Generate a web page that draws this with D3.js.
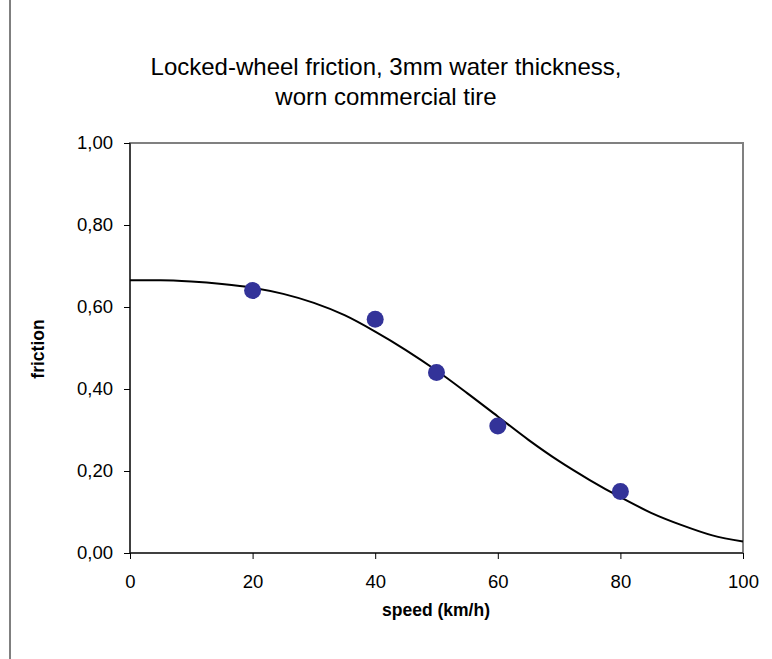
<!DOCTYPE html><html><head><meta charset="utf-8"><script src="https://cdn.jsdelivr.net/npm/d3@7"></script>
<style>body{margin:0;background:#fff}text{font-family:Arial,"Liberation Sans",sans-serif}</style></head><body>
<svg id="c" width="772" height="659"></svg>
<script>
const pointsX=[20,40,50,60,80];
const pointsY=[0.64,0.57,0.44,0.31,0.15];
const curveX=[0,5,10,15,20,25,30,35,40,45,50,55,60,65,70,75,80,85,90,95,100];
const curveY=[0.665,0.665,0.662,0.656,0.647,0.632,0.61,0.58,0.54,0.495,0.445,0.39,0.333,0.276,0.224,0.178,0.136,0.098,0.068,0.043,0.028];
const xTicks=[0,20,40,60,80,100];
const yTicks=[0,0.2,0.4,0.6,0.8,1.0];
const svg=d3.select("#c");
svg.append("line").attr("x1",10).attr("x2",10).attr("y1",0).attr("y2",659).attr("stroke","#000");
const L=130,R=743,T=143,B=553;
const x=d3.scaleLinear().domain([0,100]).range([L,R]);
const y=d3.scaleLinear().domain([0,1]).range([B,T]);
svg.append("rect").attr("x",L).attr("y",T).attr("width",R-L).attr("height",B-T).attr("fill","none").attr("stroke","#808080").attr("stroke-width",2);
svg.append("line").attr("x1",L).attr("x2",L).attr("y1",T).attr("y2",B).attr("stroke","#000");
svg.append("line").attr("x1",L).attr("x2",R).attr("y1",B).attr("y2",B).attr("stroke","#000");
const fmt=d=>d3.format(".2f")(d).replace(".",",");
const ya=svg.append("g").attr("transform",`translate(${L},0)`).call(d3.axisLeft(y).tickValues(yTicks).tickFormat(fmt).tickSize(6).tickPadding(11));
const xa=svg.append("g").attr("transform",`translate(0,${B})`).call(d3.axisBottom(x).tickValues(xTicks).tickSize(6).tickPadding(16));
[ya,xa].forEach(a=>{a.select(".domain").remove();a.selectAll("text").attr("font-size",18.5).attr("fill","#000");a.selectAll("line").attr("stroke","#000")});
svg.append("path").datum(curveX.map((d,i)=>[d,curveY[i]])).attr("d",d3.line().x(d=>x(d[0])).y(d=>y(d[1])).curve(d3.curveMonotoneX)).attr("fill","none").attr("stroke","#000").attr("stroke-width",2);
svg.selectAll("circle").data(pointsX).join("circle").attr("cx",d=>x(d)).attr("cy",(d,i)=>y(pointsY[i])).attr("r",8.5).attr("fill","#333399");
svg.append("text").attr("x",386).attr("y",75).attr("text-anchor","middle").attr("font-size",24).text("Locked-wheel friction, 3mm water thickness,");
svg.append("text").attr("x",386).attr("y",105).attr("text-anchor","middle").attr("font-size",24).text("worn commercial tire");
svg.append("text").attr("x",436).attr("y",616).attr("text-anchor","middle").attr("font-size",17.5).attr("font-weight","bold").text("speed (km/h)");
svg.append("text").attr("transform","translate(44,349) rotate(-90)").attr("text-anchor","middle").attr("font-size",17.5).attr("font-weight","bold").text("friction");
</script></body></html>
